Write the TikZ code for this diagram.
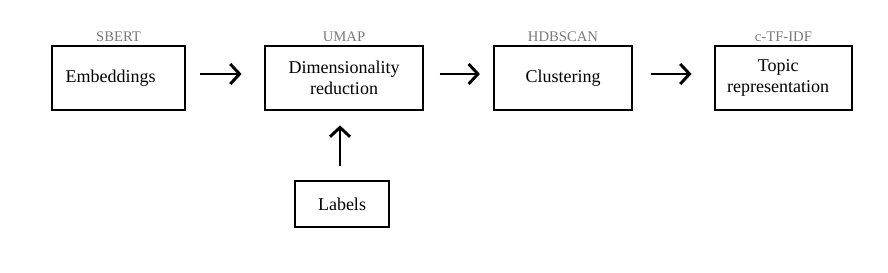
\documentclass[tikz,border=0pt]{standalone}
\usepackage{fontspec}
\setmainfont{Liberation Serif}
\usetikzlibrary{arrows.meta}
\begin{document}
\begin{tikzpicture}[
		box/.style={draw, line width=1.1pt, minimum height=48pt, align=center, inner sep=2pt, font=\fontsize{13.5}{16}\selectfont},
		tool/.style={text=black!52, font=\fontsize{11}{13}\selectfont, inner sep=1pt},
		flow/.style={line width=2.2pt, -{Straight Barb[length=7pt, width=15pt, line width=2.2pt]}}
	]
	\useasboundingbox (0pt,0pt) rectangle (666pt,-204pt);
	\node[box, minimum width=99.75pt] (emb) at (88.9pt,-58.5pt) {Embeddings\hspace*{12pt}};
	\node[box, minimum width=118.5pt] (dim) at (258pt,-58.5pt) {Dimensionality\\reduction};
	\node[box, minimum width=103.5pt] (clu) at (422.25pt,-58.5pt) {Clustering};
	\node[box, minimum width=102.75pt] (top) at (587.6pt,-58.5pt) {Topic\hspace*{8pt}\\representation\hspace*{8pt}};
	\node[box, minimum width=70.5pt, minimum height=34.5pt] (lab) at (256.5pt,-153pt) {Labels};
	% tool names above the boxes
	\node[tool, anchor=south] at ([yshift=1.5pt]emb.north) {SBERT};
	\node[tool, anchor=south] at ([yshift=1.5pt]dim.north) {UMAP};
	\node[tool, anchor=south] at ([yshift=1.5pt]clu.north) {HDBSCAN};
	\node[tool, anchor=south] at ([yshift=1.5pt]top.north) {c-TF-IDF};
	% arrows
	\draw[flow, shorten <=11pt, shorten >=17pt] ([yshift=3pt]emb.east) -- ([yshift=3pt]dim.west);
	\draw[flow, shorten <=12pt, shorten >=10pt] ([yshift=3pt]dim.east) -- ([yshift=3pt]clu.west);
	\draw[flow, shorten <=13.5pt, shorten >=17pt] ([yshift=3pt]clu.east) -- ([yshift=3pt]top.west);
	\draw[flow, shorten <=11pt, shorten >=11pt] ([xshift=-1.5pt]lab.north) -- ([xshift=-1.5pt]lab.north |- dim.south);
\end{tikzpicture}
\end{document}
